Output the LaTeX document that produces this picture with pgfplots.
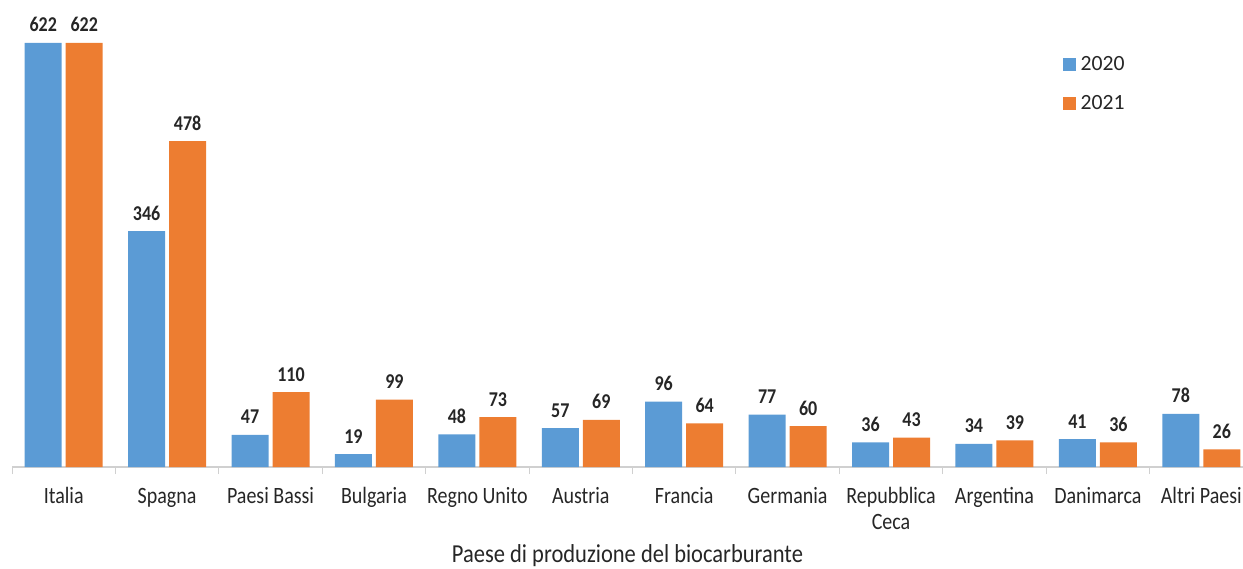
\documentclass[border=0pt]{standalone}
\usepackage{pgfplots}
\pgfplotsset{compat=1.18}
\usepackage{fontspec}
\setmainfont{Carlito}
\definecolor{cblue}{HTML}{5B9BD5}
\definecolor{corange}{HTML}{ED7D31}
\definecolor{axgray}{HTML}{D0D0D0}
\definecolor{txt}{HTML}{262626}
\begin{document}
\begin{tikzpicture}[x=1pt,y=1pt]
\useasboundingbox (0,0) rectangle (1243,568);
\begin{axis}[
  at={(12pt,101pt)}, anchor=south west,
  scale only axis, width=1241pt, height=443.1pt,
  xmin=-0.5, xmax=11.5, ymin=0, ymax=650,
  ybar=4pt, bar width=37pt,
  /pgf/number format/assume math mode=true,
  axis y line=none, axis x line*=bottom,
  x axis line style={axgray, line width=1.2pt},
  xtick={0,...,11},
  xticklabels={Italia,Spagna,Paesi Bassi,Bulgaria,Regno Unito,Austria,Francia,Germania,{\begin{tabular}[t]{@{}c@{}}Repubblica\\Ceca\end{tabular}},Argentina,Danimarca,Altri Paesi},
  major tick length=0pt,
  minor xtick={-0.5,0.5,...,11.5},
  minor tick length=7pt,
  tick align=outside, xtick pos=bottom,
  minor tick style={axgray, line width=1pt},
  xticklabel style={font=\fontsize{20}{23}\selectfont, text=txt, anchor=base, yshift=-36pt, yscale=1.17, transform shape},
  xlabel={Paese di produzione del biocarburante},
  every axis x label/.style={at={(axis description cs:0.5,0)}, anchor=base, yshift=-95pt, xshift=-5pt, font=\fontsize{22.5}{26}\selectfont, text=txt, yscale=1.15, transform shape},
  nodes near coords,
  every node near coord/.append style={font=\bfseries\fontsize{18}{20}\selectfont, text=txt, anchor=base, yshift=11pt, yscale=1.17, transform shape},
  legend style={at={(0.844,0.935)}, anchor=north west, draw=none, fill=none,
    font=\fontsize{21.7}{24}\selectfont, text=txt, row sep=19pt, legend cell align=left},
  legend image code/.code={\fill[#1] (0pt,-6.5pt) rectangle (13pt,6.5pt); \path (16pt,0pt);},
]
\addplot[fill=cblue, draw=none] coordinates {(0,622) (1,346) (2,47) (3,19) (4,48) (5,57) (6,96) (7,77) (8,36) (9,34) (10,41) (11,78)};
\addplot[fill=corange, draw=none] coordinates {(0,622) (1,478) (2,110) (3,99) (4,73) (5,69) (6,64) (7,60) (8,43) (9,39) (10,36) (11,26)};
\legend{2020,2021}
\end{axis}
\end{tikzpicture}
\end{document}
